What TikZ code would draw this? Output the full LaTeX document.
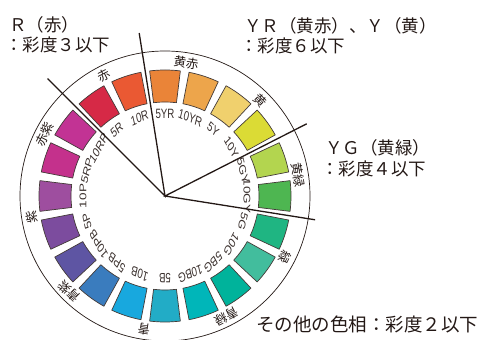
\documentclass[tikz,border=0pt]{standalone}
\usepackage{fontspec}
\setmainfont{Liberation Sans}
\newfontfamily\jp{Noto Sans CJK JP}
\usetikzlibrary{calc}
\definecolor{ink}{HTML}{231815}
\definecolor{c5R}{HTML}{D62946}
\definecolor{c10R}{HTML}{EA5933}
\definecolor{c5YR}{HTML}{EA8438}
\definecolor{c10YR}{HTML}{EDA54B}
\definecolor{c5Y}{HTML}{F0D06D}
\definecolor{c10Y}{HTML}{DBDB35}
\definecolor{c5GY}{HTML}{B3D54F}
\definecolor{c10GY}{HTML}{4EB651}
\definecolor{c5G}{HTML}{1FB582}
\definecolor{c10G}{HTML}{42BD9D}
\definecolor{c5BG}{HTML}{00B39B}
\definecolor{c10BG}{HTML}{00B6B9}
\definecolor{c5B}{HTML}{22ACC6}
\definecolor{c10B}{HTML}{18A8DE}
\definecolor{c5PB}{HTML}{3A7CBE}
\definecolor{c10PB}{HTML}{5E55A3}
\definecolor{c5P}{HTML}{7C4C9E}
\definecolor{c10P}{HTML}{9E4E9F}
\definecolor{c5RP}{HTML}{C4318C}
\definecolor{c10RP}{HTML}{C23394}
\tikzset{
  segment/.style={draw=ink!85, line width=0.7pt, line join=round},
  inlabel/.style={inner sep=0pt, text=ink!90, font=\fontsize{13.5}{13.5}\selectfont, xscale=0.72},
  huename/.style={inner sep=0pt, text=ink, font=\jp\fontsize{12.5}{12.5}\selectfont},
  divider/.style={draw=ink, line width=1.3pt},
  ringline/.style={draw=ink, line width=0.7pt},
  title/.style={inner sep=0pt, anchor=base west, text=ink, font=\jp\fontsize{17.5}{21}\selectfont}
}
\begin{document}
\begin{tikzpicture}[x=1pt,y=1pt]
\useasboundingbox (0,0) rectangle (482,340);
\coordinate (C) at (165,144);
\node[ringline, circle, minimum size=290pt, inner sep=0pt] (ring) at (C) {};
\foreach \a/\t in {90/5YR,72/10YR,54/5Y,36/10Y,18/5GY,0/10GY,-18/5G,-36/10G,-54/5BG,-72/10BG,-90/5B,-108/10B,-126/5PB,-144/10PB,-162/5P,-180/10P,162/5RP,144/10RP,126/5R,108/10R}{
  \draw[segment, fill=c\t, shift={(C)}] ({\a-7}:94) arc[start angle={\a-7}, end angle={\a+7}, radius=94]
     -- ({\a+7}:126) arc[start angle={\a+7}, end angle={\a-7}, radius=126] -- cycle;
  \node[inlabel, rotate=\a-90] (l\t) at ($(C)+(\a:82)$) {\t};
}
\foreach \a/\t [count=\i] in {117/赤,81/黄赤,45/黄,9/黄緑,-27/緑,-63/青緑,-99/青,-135/青紫,-171/紫,153/赤紫}{
  \node[huename, rotate=\a-90] (h\i) at ($(C)+(\a:135)$) {\t};
}
\coordinate (e1) at ($(C)+(135:166)$);
\coordinate (e2) at ($(C)+(99:165)$);
\coordinate (e3) at ($(C)+(27:159)$);
\coordinate (e4) at ($(C)+(-9:152)$);
\draw[divider] (e1) -- (C) -- (e2);
\draw[divider] (e3) -- (C) -- (e4);
\node[title] (tR1) at (9,308) {Ｒ（赤）};
\node[title] (tR2) at (5,288) {：彩度３以下};
\node[title] (tY1) at (244,307) {ＹＲ（黄赤）、Ｙ（黄）};
\node[title] (tY2) at (240,287) {：彩度６以下};
\node[title] (tG1) at (325,185) {ＹＧ（黄緑）};
\node[title] (tG2) at (321,164) {：彩度４以下};
\node[title, font=\jp\fontsize{18.5}{21}\selectfont] (tO) at (256,8) {その他の色相：彩度２以下};
\end{tikzpicture}
\end{document}
